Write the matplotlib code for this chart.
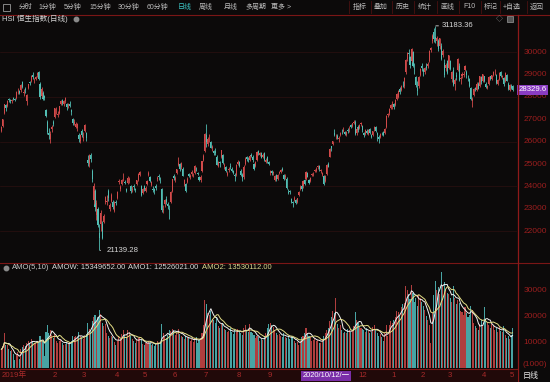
import numpy as np
import pandas as pd
import matplotlib
matplotlib.use('Agg')
import matplotlib.pyplot as plt
from matplotlib.lines import Line2D
from matplotlib.patches import Rectangle
from matplotlib.transforms import blended_transform_factory

plt.rcParams['font.family'] = ['Liberation Sans', 'Noto Sans CJK SC', 'DejaVu Sans']

# HSI daily bars, 2019-12-11 .. 2021-05-06, one line per month
opens = [
    26500, 26700, 27300, 27650, 27600, 27900, 27850, 27820, 27950, 27900, 27950, 28300, 28250,
    28300, 28650, 28200, 28380, 27800, 28400, 28650, 28700, 29000, 28750, 28800, 29000, 29100, 28600, 28050, 28200, 28050, 27400, 26900, 26400,
    26100, 26550, 26900, 27100, 27400, 27200, 27300, 27700, 27850, 27700, 27800, 27700, 27650, 27700, 27400, 27000, 26800, 26650, 26600, 26300,
    26050, 26500, 26150, 26500, 26400, 25200, 25000, 25400, 24700, 23400, 23800, 22700, 23000, 21900, 22300, 22300, 22400, 23300, 23300, 23800, 23000, 23350,
    23300, 22900, 23300, 23500, 24200, 23900, 24100, 24400, 24200, 23900, 24150, 24300, 24000, 23850, 24000, 23900, 24100, 24300, 24500,
    24000, 23700, 24000, 23800, 24100, 24500, 24400, 24050, 23900, 23900, 24000, 24350, 24450, 24300, 23900, 22950, 23200, 23450, 23200, 23000,
    23300, 23800, 24450, 24300, 24600, 24950, 25000, 24850, 24800, 24100, 24100, 24200, 24550, 24400, 24550, 24500, 24600, 24800, 24600, 24400, 24300,
    24700, 25200, 25600, 26300, 25900, 26200, 26000, 25700, 25600, 25600, 25300, 24900, 25100, 25300, 25400, 24900, 24850, 24500, 24750, 24900, 24800, 24700,
    24500, 24500, 25000, 25100, 24700, 24500, 24400, 25000, 25300, 25200, 25200, 25400, 25300, 25000, 24900, 25200, 25600, 25400, 25500, 25300, 25500,
    25100, 25300, 25100, 24600, 24700, 24600, 24300, 24500, 24350, 24600, 24650, 24800, 24500, 24400, 24350, 23750, 23800, 23450, 23300, 23400, 23400, 23300,
    23600, 23900, 24000, 24000, 24300, 24350, 24600, 24300, 24250, 24500, 24550, 24700, 24700, 24850, 24900, 24700, 24500, 24450,
    24250, 24550, 25000, 25300, 25800, 25900, 26400, 26200, 26250, 26100, 26300, 26450, 26500, 26450, 26300, 26500, 26550, 26750, 26700, 26850, 26900,
    26400, 26650, 26600, 26800, 26700, 26400, 26350, 26500, 26350, 26550, 26300, 26300, 26550, 26650, 26400, 26200, 26200, 26400, 26450, 26400, 26650, 27200,
    27300, 27500, 27650, 27700, 27650, 27900, 28000, 28350, 28300, 28600, 28500, 29100, 29700, 29950, 29800, 29600, 30000, 29300, 28900, 28400,
    28500, 29000, 29400, 29200, 29100, 29400, 29400, 29600, 30100, 30500, 30900, 30700, 30500, 30500, 30300, 30300, 29900, 29500,
    29300, 29600, 29300, 29600, 28800, 29200, 28600, 29000, 29200, 29400, 28800, 28950, 29000, 29200, 29100, 28900, 28800, 28400, 27800, 28100, 28400, 28300, 28600,
    28500, 28900, 28700, 28950, 28600, 28400, 28600, 28950, 28800, 29000, 29100, 29000, 28600, 28800, 29100, 28900, 28850, 28700, 29000,
    28600, 28300, 28500, 28500,
]
highs = [
    26720, 27020, 27700, 27700, 27860, 27950, 27900, 27920, 28000, 27950, 28250, 28420, 28330,
    28570, 28700, 28350, 28450, 28150, 28600, 28720, 28980, 29100, 28850, 28950, 29100, 29175, 28650, 28450, 28250, 28100, 27450, 26950, 26620,
    26500, 26750, 26950, 27510, 27550, 27380, 27600, 27850, 27930, 27850, 27980, 27750, 27750, 27800, 27450, 27050, 27000, 26900, 26850, 26400,
    26350, 26550, 26450, 26800, 26450, 25400, 25450, 25500, 24800, 24150, 23900, 23400, 23100, 22300, 22950, 22450, 22750, 23550, 23600, 23900, 23250, 23700,
    23400, 23350, 23400, 23800, 24350, 24050, 24350, 24600, 24300, 23950, 24450, 24400, 24050, 24000, 24100, 23950, 24300, 24600, 24700,
    24050, 23950, 24050, 24000, 24300, 24700, 24450, 24250, 24000, 23950, 24100, 24450, 24550, 24400, 23950, 23150, 23450, 23550, 23300, 23150,
    23800, 24350, 24550, 24450, 24800, 25300, 25050, 25100, 24850, 24350, 24150, 24400, 24600, 24550, 24750, 24600, 24950, 24850, 24650, 24450, 24500,
    25150, 25450, 26400, 26782, 26200, 26350, 26050, 25850, 25650, 25700, 25400, 25150, 25150, 25650, 25450, 25050, 24900, 24700, 24850, 25050, 24850, 24750,
    24600, 25000, 25200, 25150, 24800, 24600, 24950, 25300, 25350, 25300, 25400, 25500, 25400, 25050, 25150, 25600, 25650, 25550, 25550, 25500, 25550,
    25250, 25350, 25150, 24750, 24750, 24700, 24500, 24550, 24550, 24700, 24800, 24850, 24550, 24550, 24400, 23900, 23850, 23500, 23350, 23550, 23450, 23500,
    23800, 24050, 24050, 24300, 24350, 24700, 24650, 24350, 24420, 24600, 24650, 24800, 24850, 24950, 24950, 24800, 24650, 24500,
    24500, 25000, 25100, 25700, 25800, 26050, 26550, 26350, 26350, 26250, 26450, 26550, 26650, 26500, 26500, 26600, 26700, 26800, 26850, 26950, 26950,
    26650, 26750, 26800, 26900, 26750, 26450, 26550, 26550, 26550, 26600, 26350, 26500, 26700, 26700, 26450, 26300, 26400, 26450, 26500, 26600, 27200, 27300,
    27500, 27700, 27800, 27750, 27900, 28200, 28300, 28450, 28550, 28700, 28900, 29700, 30000, 30150, 29850, 30191, 30050, 29500, 28950, 28700,
    28950, 29300, 29500, 29300, 29350, 29500, 29550, 30100, 30250, 30800, 31100, 31183.36, 30750, 30600, 30650, 30400, 30150, 29700,
    29500, 29650, 29900, 29650, 29150, 29350, 28850, 29100, 29750, 29500, 28950, 29100, 29150, 29450, 29200, 29000, 28850, 28450, 28000, 28400, 28450, 28650, 28650,
    28950, 28950, 29050, 28950, 28650, 28550, 28950, 28950, 29000, 29150, 29250, 29050, 28800, 29100, 29150, 29000, 28900, 29100, 29050,
    28650, 28600, 28600, 28550,
]
lows = [
    26420, 26640, 27250, 27380, 27550, 27780, 27740, 27730, 27850, 27830, 27920, 28150, 28120,
    28230, 28400, 28050, 28200, 27650, 28350, 28550, 28680, 28800, 28620, 28750, 28900, 28750, 27900, 28000, 27850, 27880, 27100, 26350, 26100,
    25950, 26450, 26700, 27050, 27250, 27100, 27250, 27650, 27650, 27600, 27750, 27400, 27500, 27550, 27200, 26750, 26750, 26600, 26500, 26000,
    25950, 26200, 26050, 26450, 26050, 24900, 24850, 25100, 24200, 23200, 22900, 22500, 22200, 21139.28, 22000, 21650, 22350, 23200, 23150, 23350, 22900, 23300,
    23000, 22850, 23150, 23450, 24100, 23800, 24050, 24250, 24100, 23750, 24100, 24150, 23700, 23750, 23850, 23750, 24050, 24250, 24450,
    23550, 23650, 23800, 23750, 24050, 24450, 24200, 24000, 23750, 23650, 23850, 24250, 24300, 24150, 22850, 22800, 23100, 23200, 23000, 22550,
    23250, 23750, 24300, 24200, 24550, 24900, 24700, 24800, 24450, 24000, 23750, 24150, 24400, 24350, 24450, 24400, 24550, 24700, 24500, 24250, 24200,
    24650, 25150, 25550, 25750, 25800, 26000, 25700, 25600, 25400, 25400, 24950, 24850, 24850, 25250, 25000, 24800, 24650, 24450, 24650, 24800, 24650, 24550,
    24250, 24450, 24950, 24850, 24450, 24250, 24350, 24950, 25150, 25100, 25150, 25300, 25100, 24750, 24850, 25150, 25400, 25350, 25250, 25250, 25150,
    25050, 25050, 24950, 24500, 24500, 24500, 24250, 24250, 24300, 24550, 24600, 24700, 24300, 24350, 23900, 23650, 23650, 23250, 23100, 23350, 23200, 23250,
    23550, 23850, 23800, 23950, 24050, 24300, 24400, 24100, 24200, 24450, 24450, 24650, 24650, 24800, 24700, 24600, 24450, 24050,
    24200, 24500, 24850, 25300, 25600, 25850, 26250, 26100, 26100, 26000, 26250, 26350, 26450, 26300, 26250, 26400, 26450, 26600, 26650, 26800, 26300,
    26300, 26450, 26550, 26700, 26450, 26200, 26300, 26350, 26300, 26350, 26150, 26250, 26500, 26450, 26050, 25950, 26150, 26300, 26250, 26350, 26600, 27100,
    27200, 27450, 27450, 27450, 27600, 27850, 27950, 28150, 28250, 28450, 28400, 29050, 29600, 29700, 29300, 29550, 29350, 29050, 28450, 28100,
    28400, 28950, 29150, 28950, 29050, 29200, 29300, 29550, 30000, 30400, 30450, 30400, 30300, 30050, 30150, 29650, 29800, 28900,
    29150, 29050, 29250, 29200, 28650, 28500, 28300, 28750, 29150, 28700, 28600, 28850, 28900, 29150, 28850, 28700, 28450, 27850, 27550, 28050, 28250, 28250, 28350,
    28450, 28600, 28650, 28650, 28400, 28350, 28550, 28750, 28750, 28950, 29000, 28600, 28550, 28750, 28900, 28800, 28500, 28650, 28700,
    28300, 28250, 28350, 28250,
]
closes = [
    26645, 26994, 27688, 27509, 27843, 27884, 27800, 27871, 27906, 27864, 28225, 28319, 28190,
    28544, 28452, 28226, 28322, 28087, 28561, 28638, 28955, 28885, 28773, 28883, 29056, 28795, 27985, 28341, 27910, 27950, 27160, 26449, 26313,
    26356, 26676, 26786, 27494, 27404, 27241, 27583, 27823, 27730, 27816, 27960, 27531, 27656, 27609, 27309, 26821, 26893, 26778, 26779, 26130,
    26292, 26284, 26222, 26767, 26146, 25040, 25392, 25231, 24309, 24033, 23064, 23263, 22291, 21709, 22805, 21696, 22663, 23527, 23352, 23484, 23175, 23603,
    23085, 23280, 23236, 23749, 24253, 23970, 24300, 24435, 24145, 23797, 24380, 24330, 23793, 23893, 23977, 23831, 24280, 24576, 24644,
    23614, 23869, 23868, 23947, 24230, 24602, 24245, 24180, 23830, 23797, 23934, 24388, 24400, 24280, 22930, 23000, 23384, 23301, 23133, 22961,
    23732, 24325, 24366, 24366, 24770, 25057, 24776, 25049, 24480, 24301, 23777, 24344, 24481, 24465, 24644, 24511, 24907, 24781, 24549, 24301, 24427,
    25124, 25373, 26339, 25975, 26130, 26210, 25727, 25772, 25477, 25481, 24970, 25090, 25058, 25635, 25057, 24960, 24705, 24603, 24772, 24883, 24710, 24595,
    24458, 24946, 25102, 24930, 24532, 24377, 24890, 25244, 25230, 25183, 25347, 25367, 25178, 24791, 25113, 25551, 25486, 25491, 25282, 25422, 25177,
    25184, 25120, 25007, 24695, 24589, 24624, 24469, 24313, 24503, 24640, 24732, 24725, 24340, 24455, 23950, 23716, 23742, 23311, 23235, 23476, 23275, 23459,
    23767, 23980, 23880, 24242, 24119, 24649, 24440, 24158, 24387, 24542, 24570, 24754, 24786, 24918, 24787, 24709, 24586, 24107,
    24460, 24939, 24886, 25695, 25712, 26016, 26301, 26227, 26170, 26157, 26382, 26415, 26544, 26356, 26451, 26486, 26588, 26669, 26819, 26894, 26341,
    26567, 26532, 26728, 26835, 26506, 26304, 26502, 26410, 26505, 26389, 26207, 26460, 26678, 26498, 26306, 26119, 26343, 26386, 26314, 26568, 27147, 27231,
    27473, 27649, 27692, 27548, 27878, 28140, 28276, 28235, 28496, 28573, 28862, 29642, 29962, 29927, 29447, 30159, 29391, 29297, 28551, 28284,
    28892, 29249, 29307, 29113, 29289, 29319, 29476, 30039, 30173, 30746, 30584, 30596, 30644, 30156, 30632, 29718, 30074, 28980,
    29452, 29095, 29880, 29236, 29098, 28541, 28773, 28907, 29718, 28739, 28833, 29027, 29034, 29405, 28990, 28885, 28497, 27918, 27899, 28336, 28338, 28577, 28378,
    28939, 28675, 29008, 28698, 28453, 28497, 28900, 28793, 28970, 29106, 29135, 28621, 28755, 29078, 28952, 28941, 28574, 29071, 28725,
    28357, 28557, 28418, 28329.6,
]
# turnover (AMO), in thousands
amounts = [
    7200, 8500, 13500, 9000, 8800, 7500, 6500, 6800, 5200, 3000, 5000, 6000, 3500,
    7500, 8200, 9000, 8500, 9500, 10500, 9800, 11000, 10200, 9500, 9800, 10500, 9600, 12500, 10800, 10500, 4500, 14000, 16500, 13500,
    14500, 12800, 11500, 13000, 10500, 9500, 10200, 11000, 9800, 8800, 9200, 10000, 9600, 9300, 10200, 12500, 11800, 12200, 11500, 13800,
    12500, 11800, 11000, 12400, 13000, 17500, 15000, 14200, 18000, 19500, 20500, 17800, 19500, 22500, 20800, 17500, 16000, 16800, 13500, 12500, 11500, 12200,
    11800, 10000, 9000, 10500, 12500, 11200, 13000, 14500, 12800, 11800, 14500, 13800, 12500, 11000, 10500, 9500, 10800, 11500, 12000,
    10800, 9200, 8800, 9500, 9800, 10500, 9800, 9000, 9200, 8600, 9500, 10200, 9800, 9600, 17000, 13500, 12000, 11500, 12800, 14500,
    14200, 15000, 14500, 12800, 13500, 15000, 13000, 12500, 12000, 11000, 12500, 11800, 11500, 10500, 11200, 10000, 11500, 12000, 9500, 10800, 11500,
    13500, 16500, 26000, 24500, 21000, 20500, 22000, 19000, 18500, 17500, 19500, 16000, 15500, 16800, 17200, 15000, 14500, 13800, 14200, 15500, 14000, 13200,
    14500, 13800, 15000, 14200, 13500, 12800, 15200, 16500, 14500, 13800, 17000, 14000, 13500, 12800, 11500, 12200, 11800, 10500, 11000, 10800, 12500,
    13500, 15500, 16800, 17500, 16500, 15800, 14800, 13500, 12800, 13000, 12500, 11800, 13500, 12000, 11500, 12200, 11000, 12500, 11800, 10200, 9500, 10000,
    9000, 10500, 11800, 12500, 13500, 15500, 13000, 12500, 11800, 10500, 10800, 11500, 10200, 10800, 9800, 9500, 11200, 12500,
    13500, 14800, 15500, 18000, 19500, 22000, 21000, 27000, 17000, 15500, 16500, 14500, 13500, 14000, 13500, 15000, 14500, 13800, 14200, 16000, 21500,
    18500, 17500, 16000, 15500, 15000, 14500, 13800, 15500, 14200, 13500, 14000, 15800, 16500, 14500, 13500, 12500, 13000, 12000, 10500, 13500, 16500, 12500,
    16500, 18000, 17500, 18500, 19500, 22000, 21500, 20000, 23500, 24500, 25000, 31500, 30000, 28500, 26500, 32000, 29000, 25500, 27000, 24000,
    28000, 27000, 25500, 24000, 22500, 20000, 18500, 16500, 9500, 21000, 28000, 33500, 30000, 31000, 28500, 36800, 31500, 33000,
    30500, 29000, 28500, 27000, 25500, 31500, 27000, 24500, 26000, 25000, 22000, 21500, 20500, 23500, 21000, 19500, 20500, 24000, 22500, 17500, 16000, 15500, 14500,
    17000, 18500, 16500, 23500, 19000, 17500, 16500, 15500, 17000, 16000, 14500, 15500, 14000, 15800, 14200, 13900, 16100, 12671, 11500,
    12200, 11000, 12580, 15350,
]

# month labels on the date strip (Oct/Nov are hidden under the cursor date)
month_start = [33, 53, 75, 94, 114, 135, 157, 178, 239, 261, 281, 299, 322, 341]
month_names = ['2', '3', '4', '5', '6', '7', '8', '9', '12', '1', '2', '3', '4', '5']
first_label = '2019年'
cursor_idx = 205
cursor_label = '2020/10/12/一'

price_ticks = [30000, 29000, 28000, 27000, 26000, 25000, 24000, 23000, 22000]
grid_ticks = [30000, 28000, 26000, 24000, 22000]
amo_ticks = [30000, 20000, 10000]
last_price = 28329.6

title = 'HSI 恒生指数(日线)'
amo_legend = [('AMO(5,10)', '#c8c8c8', 12), ('AMOW: 15349652.00', '#d8d8d8', 52),
              ('AMO1: 12526021.00', '#d8d8d8', 128), ('AMO2: 13530112.00', '#dcd890', 202)]

tool_left = ['分时', '1分钟', '5分钟', '15分钟', '30分钟', '60分钟', '日线', '周线', '月线', '多周期', '更多 >']
tool_left_x = [19, 38, 64, 89, 118, 147, 178, 199, 224, 245, 271]
tool_right = ['指标', '叠加', '历史', '统计', '画线', 'F10', '标记', '+自选', '返回']
tool_right_x = [353, 374, 396, 418, 440, 463, 484, 503, 530]
tool_sep_x = [349, 371, 392, 414, 437, 459, 481, 500, 527]

BG = '#0c0a0a'
RED_LINE = '#7a1616'
AXIS_RED = '#9a1e1e'
UP = '#d24a4a'
DOWN = '#52beb4'
UP_V = '#b03e3e'
DOWN_V = '#48a4a4'

W, H = 550, 382
fig = plt.figure(figsize=(W / 100, H / 100), dpi=100, facecolor=BG)


def fx(px):
    return px / W


def fy(py):
    return 1 - py / H


def px_axes(x0, y0, x1, y1):
    a = fig.add_axes([fx(x0), fy(y1), (x1 - x0) / W, (y1 - y0) / H])
    a.set_facecolor(BG)
    for s in a.spines.values():
        s.set_visible(False)
    a.set_xticks([])
    a.set_yticks([])
    return a


o = np.array(opens, dtype=float)
h = np.array(highs, dtype=float)
l = np.array(lows, dtype=float)
c = np.array(closes, dtype=float)
v = np.array(amounts, dtype=float)
idx = np.arange(len(c))
up = c >= o
xlim = (-0.94, 347.0)

# ---- price panel ----
ax = px_axes(0, 15, 517, 262)
ax.set_xlim(*xlim)
ax.set_ylim(20617, 31669)
for g in grid_ticks:
    ax.axhline(g, color='#2c1010', lw=0.5, zorder=0)

cols = np.where(up, UP, DOWN)
ax.vlines(idx, l, h, colors=cols, linewidth=0.6)
body = np.maximum(np.abs(c - o), 15)
ax.bar(idx, body, bottom=np.minimum(o, c), width=0.72, color=cols, linewidth=0)

# highest / lowest markers
hi = int(np.argmax(h))
lo = int(np.argmin(l))
ax.annotate(f'{h[hi]:.2f}', xy=(hi + 0.4, h[hi]), xytext=(hi + 4, h[hi]), color='#d8d8d8',
            fontsize=5.6, va='center', arrowprops=dict(arrowstyle='-', color='#d8d8d8', lw=0.6))
ax.annotate(f'{l[lo]:.2f}', xy=(lo + 0.4, l[lo]), xytext=(lo + 4.5, l[lo]), color='#d8d8d8',
            fontsize=5.6, va='center', arrowprops=dict(arrowstyle='-', color='#d8d8d8', lw=0.6))

ty = ax.get_yaxis_transform()
for t in price_ticks:
    ax.text(1.058, t, str(t), transform=ty, ha='right', va='center', color=AXIS_RED,
            fontsize=6, clip_on=False)
ax.text(1.003, last_price, f'{last_price:.1f}', transform=ty, ha='left', va='center',
        color='white', fontsize=5.6, clip_on=False,
        bbox=dict(boxstyle='square,pad=0.18', fc='#8a3cc2', ec='none'))

# ---- turnover panel ----
axv = px_axes(0, 263, 517, 368)
axv.set_xlim(*xlim)
axv.set_ylim(0, 40385)
axv.bar(idx, v, width=0.72, color=np.where(up, UP_V, DOWN_V), linewidth=0)
ma5 = pd.Series(v).rolling(5, min_periods=1).mean()
ma10 = pd.Series(v).rolling(10, min_periods=1).mean()
axv.plot(idx, ma5, color='#f2f2f2', lw=0.7)
axv.plot(idx, ma10, color='#e4de86', lw=0.7)

tyv = axv.get_yaxis_transform()
for t in amo_ticks:
    axv.text(1.058, t, str(t), transform=tyv, ha='right', va='center', color=AXIS_RED,
             fontsize=6, clip_on=False)
axv.text(1.058, 1300, '(1000)', transform=tyv, ha='right', va='center', color=AXIS_RED,
         fontsize=6, clip_on=False)

# ---- frame lines ----
fig.add_artist(Line2D([0, 1], [fy(14.5)] * 2, color=RED_LINE, lw=0.8))
fig.add_artist(Line2D([0, 1], [fy(262.5)] * 2, color=RED_LINE, lw=0.8))
fig.add_artist(Line2D([0, fx(517)], [fy(368.5)] * 2, color=RED_LINE, lw=0.8))
fig.add_artist(Line2D([fx(517.5)] * 2, [fy(14.5), 0], color='#8e1a1a', lw=0.9))
fig.add_artist(Rectangle((0, 0), fx(517), (382 - 369) / H,
                         transform=fig.transFigure, fc='#210909', ec='none', zorder=0))

# ---- toolbar ----
fig.add_artist(Rectangle((fx(3), fy(11)), 7 / W, 7 / H, transform=fig.transFigure,
                         fc='none', ec='#9a9a9a', lw=0.6))
for s, x in zip(tool_left, tool_left_x):
    fig.text(fx(x), fy(7), s, color='#3cc6c6' if s == '日线' else '#bcbcbc',
             fontsize=5.0, ha='left', va='center')
for s, x in zip(tool_right, tool_right_x):
    fig.text(fx(x), fy(7), s, color='#bcbcbc', fontsize=5.0, ha='left', va='center')
for x in tool_sep_x:
    fig.add_artist(Line2D([fx(x)] * 2, [fy(1), fy(13)], color='#4a1010', lw=0.6))

fig.text(fx(2), fy(19), title, color='#d4d4d4', fontsize=5.5, ha='left', va='center')
fig.add_artist(Line2D([fx(76)], [fy(19)], marker='o', ms=3.2, color='#8a8a8a',
                      transform=fig.transFigure))
fig.text(fx(496), fy(19), '◇', color='#9a9a9a', fontsize=5, ha='left', va='center')
fig.add_artist(Rectangle((fx(507), fy(22)), 6 / W, 6 / H, transform=fig.transFigure,
                         fc='#555555', ec='#9a9a9a', lw=0.5))

# ---- turnover legend ----
fig.add_artist(Line2D([fx(6)], [fy(267.5)], marker='o', ms=3.2, color='#8a8a8a',
                      transform=fig.transFigure))
for s, col, x in amo_legend:
    fig.text(fx(x), fy(267.5), s, color=col, fontsize=5.5, ha='left', va='center')

# ---- date strip ----
tdate = blended_transform_factory(axv.transData, fig.transFigure)
fig.text(fx(2), fy(375.5), first_label, color='#a82a2a', fontsize=5.6, ha='left', va='center')
for m, name in zip(month_start, month_names):
    fig.text(m + 1.2, fy(375.5), name, transform=tdate, color='#a82a2a', fontsize=5.6,
             ha='left', va='center')
fig.text(cursor_idx - 2.5, fy(375.5), cursor_label, transform=tdate, color='white',
         fontsize=5.4, ha='left', va='center', zorder=5,
         bbox=dict(boxstyle='square,pad=0.2', fc='#7a2ea8', ec='none'))
fig.text(fx(523), fy(376), '日线', color='#e8e8e8', fontsize=5.8, ha='left', va='center')

fig.savefig('out.png', dpi=100, facecolor=BG)
